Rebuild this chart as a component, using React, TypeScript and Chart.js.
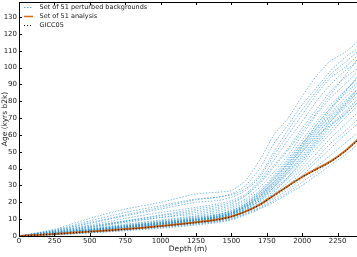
import React, { useEffect, useRef } from "react";
import { Chart, registerables } from "chart.js";

Chart.register(...registerables);

const DEPTHS = [0, 250, 500, 750, 1000, 1250, 1400, 1500, 1600, 1700, 1800, 1900, 2000, 2100, 2200, 2300, 2400];
const GICC05 = [0, 1.2, 2.6, 4.0, 5.8, 8.0, 9.7, 11.5, 14.5, 18.5, 24, 29.5, 35, 39.5, 44, 50, 57.5];
const ANALYSIS = [0, 1.2, 2.6, 4.1, 5.9, 8.1, 9.8, 11.6, 14.6, 18.7, 24.2, 29.8, 35.2, 39.8, 44.3, 50.3, 57.8];
const PERTURBED: number[][] = [
  [0, 4, 10.5, 16, 20, 25, 26, 27, 33, 45, 60, 70, 83, 95, 104, 109, 116],
  [0, 3.5, 9, 14, 18, 22, 23, 25, 30, 40, 55, 66, 78, 88, 98, 106, 112],
  [0, 3, 7.5, 12, 16, 20, 21, 23, 27, 35, 48, 60, 72, 84, 94, 100, 108],
  [0, 2.5, 6.5, 10.5, 14, 17, 19, 21, 25, 33, 45, 57, 68, 80, 90, 98, 104],
  [0, 2.8, 6, 9, 12, 15, 17, 19, 24, 32, 42, 52, 64, 75, 86, 94, 100],
  [0, 2, 5, 8, 11, 14, 16, 18, 22, 29, 38, 48, 60, 72, 82, 90, 98],
  [0, 2.2, 5.2, 8.5, 11, 13, 15, 17, 21, 27, 36, 46, 57, 68, 78, 86, 95],
  [0, 1.8, 4.5, 7, 9.5, 12, 14, 16, 20, 26, 34, 44, 55, 66, 76, 84, 92],
  [0, 1.6, 4, 6.5, 9, 11.5, 13, 15, 19, 25, 32, 42, 52, 62, 72, 80, 88],
  [0, 1.5, 3.8, 6, 8.5, 11, 12.5, 14.5, 18, 24, 31, 40, 50, 60, 70, 78, 86],
  [0, 2, 4.2, 6.2, 8, 10.5, 12, 14, 17, 23, 30, 38, 48, 58, 68, 76, 84],
  [0, 1.4, 3.5, 5.5, 7.8, 10, 11.5, 13.5, 17, 22, 29, 37, 46, 56, 66, 74, 82],
  [0, 1.3, 3.2, 5.2, 7.2, 9.5, 11, 13, 16, 21, 28, 35, 44, 54, 63, 72, 80],
  [0, 1.2, 3, 5, 7, 9, 10.5, 12.5, 15.5, 20, 27, 34, 42, 52, 61, 70, 78],
  [0, 1.5, 3.4, 5.4, 7.5, 9.8, 11.5, 13.8, 17.5, 23, 31, 40, 51, 61, 69, 77, 86],
  [0, 1.1, 2.8, 4.6, 6.6, 8.6, 10, 12, 15, 19, 25, 32, 40, 49, 58, 66, 74],
  [0, 1, 2.6, 4.3, 6.2, 8.2, 9.6, 11.4, 14.5, 18.5, 24, 30, 38, 46, 55, 62, 70],
  [0, 0.9, 2.4, 4, 5.8, 7.8, 9.2, 11, 14, 18, 23, 29, 36, 44, 52, 60, 67],
  [0, 1.3, 3, 4.8, 6.8, 9, 10.8, 13, 16.5, 22, 30, 39, 50, 59, 66, 72, 80],
  [0, 0.8, 2.2, 3.7, 5.4, 7.4, 8.8, 10.5, 13.5, 17, 22, 27.5, 34, 41, 48, 55, 62],
  [0, 0.7, 2, 3.4, 5, 7, 8.4, 10, 13, 16.5, 21, 26, 32, 38, 44, 50, 58],
  [0, 0.6, 1.8, 3.1, 4.6, 6.5, 8, 9.5, 12.5, 16, 20, 25, 30, 36, 42, 48, 55],
  [0, 1.7, 3.8, 6, 8.2, 10.6, 12.5, 15, 19, 26, 35, 45, 55, 64, 73, 82, 90],
  [0, 1.2, 2.9, 4.9, 7, 9.4, 11.2, 13.5, 18, 24, 33, 43, 54, 66, 76, 86, 94],
  [0, 2.4, 5.5, 8.8, 12.5, 16, 18, 20, 24, 31, 41, 51, 62, 73, 84, 95, 106],
  [0, 1.4, 3.3, 5.3, 7.3, 9.5, 11, 13, 17.5, 23.5, 32, 41, 53, 64, 75, 85, 96],
  [0, 1.1, 2.7, 4.4, 6.4, 8.7, 10.4, 12.5, 16, 21, 29, 38, 47, 57, 68, 78, 88],
  [0, 0.9, 2.3, 3.9, 5.7, 7.7, 9.1, 11, 14.5, 19, 26, 35, 45, 55, 65, 73, 82],
  [0, 3.2, 8, 12.5, 17, 21.5, 23, 24.5, 28, 36, 50, 63, 75, 86, 96, 103, 110],
  [0, 1.6, 3.6, 5.6, 7.6, 9.8, 11.7, 14, 18.5, 25, 34, 43, 53, 63, 71, 79, 88],
];
const X_TICKS = [0, 250, 500, 750, 1000, 1250, 1500, 1750, 2000, 2250];
const Y_TICKS = [0, 10, 20, 30, 40, 50, 60, 70, 80, 90, 100, 110, 120, 130];

const LABEL_PERTURBED = "Set of 51 perturbed backgrounds";
const LABEL_ANALYSIS = "Set of 51 analysis";
const LABEL_GICC = "GICC05";

const BLUE = "rgba(30,140,205,0.7)";
const ORANGE = "rgb(210,110,30)";
const FONT = '"DejaVu Sans"';

const toPts = (vals: number[]) => vals.map((v, i) => ({ x: DEPTHS[i], y: v }));

const framePlugin = {
  id: "frame",
  afterDraw(chart: any) {
    const { ctx, chartArea, scales } = chart;
    const { left, right, top, bottom } = chartArea;
    const x = scales.x;
    const y = scales.y;
    ctx.save();
    ctx.strokeStyle = "#000";
    ctx.lineWidth = 1;
    ctx.setLineDash([]);
    ctx.beginPath();
    ctx.moveTo(left, Math.round(top) + 0.5);
    ctx.lineTo(right, Math.round(top) + 0.5);
    X_TICKS.forEach((v) => {
      const px = Math.round(x.getPixelForValue(v)) + 0.5;
      ctx.moveTo(px, bottom);
      ctx.lineTo(px, bottom - 3);
      ctx.moveTo(px, top);
      ctx.lineTo(px, top + 3);
    });
    Y_TICKS.forEach((v) => {
      const py = Math.round(y.getPixelForValue(v)) + 0.5;
      ctx.moveTo(left, py);
      ctx.lineTo(left + 3, py);
    });
    ctx.stroke();

    // legend
    const items = [
      { label: LABEL_PERTURBED, color: BLUE, dash: [1.5, 1.5], width: 1 },
      { label: LABEL_ANALYSIS, color: ORANGE, dash: [], width: 1.5 },
      { label: LABEL_GICC, color: "#000", dash: [1, 2], width: 1 },
    ];
    ctx.font = `6.5px ${FONT}`;
    ctx.textBaseline = "middle";
    ctx.textAlign = "left";
    items.forEach((it, i) => {
      const yy = 7.5 + i * 9;
      ctx.beginPath();
      ctx.strokeStyle = it.color;
      ctx.lineWidth = it.width;
      ctx.setLineDash(it.dash);
      ctx.moveTo(24, yy);
      ctx.lineTo(33, yy);
      ctx.stroke();
      ctx.fillStyle = "#222";
      ctx.fillText(it.label, 39.5, yy);
    });
    ctx.restore();
  },
};

export default function App() {
  const ref = useRef<HTMLCanvasElement | null>(null);
  useEffect(() => {
    if (!ref.current) return;
    const datasets: any[] = [
      {
        label: LABEL_GICC,
        data: toPts(GICC05),
        borderColor: "#000",
        borderWidth: 1,
        borderDash: [1, 2],
        pointRadius: 0,
        tension: 0.25,
      },
      {
        label: LABEL_ANALYSIS,
        data: toPts(ANALYSIS),
        borderColor: ORANGE,
        borderWidth: 2,
        pointRadius: 0,
        tension: 0.25,
      },
      ...PERTURBED.map((vals) => ({
        label: LABEL_PERTURBED,
        data: toPts(vals),
        borderColor: BLUE,
        borderWidth: 0.8,
        borderDash: [1.5, 1.5],
        pointRadius: 0,
        tension: 0.2,
      })),
    ];
    const chart = new Chart(ref.current, {
      type: "line",
      data: { datasets },
      plugins: [framePlugin],
      options: {
        animation: false,
        responsive: false,
        devicePixelRatio: 1,
        layout: { padding: { top: 2, right: 0, left: 0, bottom: 0 } },
        plugins: { legend: { display: false }, tooltip: { enabled: false }, title: { display: false } },
        scales: {
          x: {
            type: "linear",
            min: 0,
            max: 2387,
            grid: { display: false, drawTicks: false },
            border: { display: true, color: "#000", width: 1 },
            afterBuildTicks: (s: any) => {
              s.ticks = X_TICKS.map((v) => ({ value: v }));
            },
            afterFit: (s: any) => {
              s.height = 21;
              s.paddingLeft = 0;
              s.paddingRight = 0;
            },
            ticks: {
              autoSkip: false,
              maxRotation: 0,
              padding: 1,
              color: "#222",
              font: { family: FONT, size: 7 },
              callback: (v: any) => String(v),
            },
            title: {
              display: true,
              text: "Depth (m)",
              color: "#222",
              font: { family: FONT, size: 7.5 },
              padding: { top: 0, bottom: 3 },
            },
          },
          y: {
            type: "linear",
            min: 0,
            max: 139,
            grid: { display: false, drawTicks: false },
            border: { display: true, color: "#000", width: 1 },
            afterBuildTicks: (s: any) => {
              s.ticks = Y_TICKS.map((v) => ({ value: v }));
            },
            afterFit: (s: any) => {
              s.width = 19;
              s.paddingTop = 0;
              s.paddingBottom = 0;
            },
            ticks: {
              autoSkip: false,
              padding: 2,
              color: "#222",
              font: { family: FONT, size: 7 },
              callback: (v: any) => String(v),
            },
            title: {
              display: true,
              text: "Age (kyrs b2k)",
              color: "#222",
              font: { family: FONT, size: 7.5 },
              padding: { top: 0.5, bottom: 0 },
            },
          },
        },
      },
    });
    return () => chart.destroy();
  }, []);
  return (
    <div style={{ position: "fixed", left: 0, top: 0, width: 357, height: 257, background: "#fff" }}>
      <canvas ref={ref} width={357} height={257} style={{ width: 357, height: 257, display: "block" }} />
    </div>
  );
}
